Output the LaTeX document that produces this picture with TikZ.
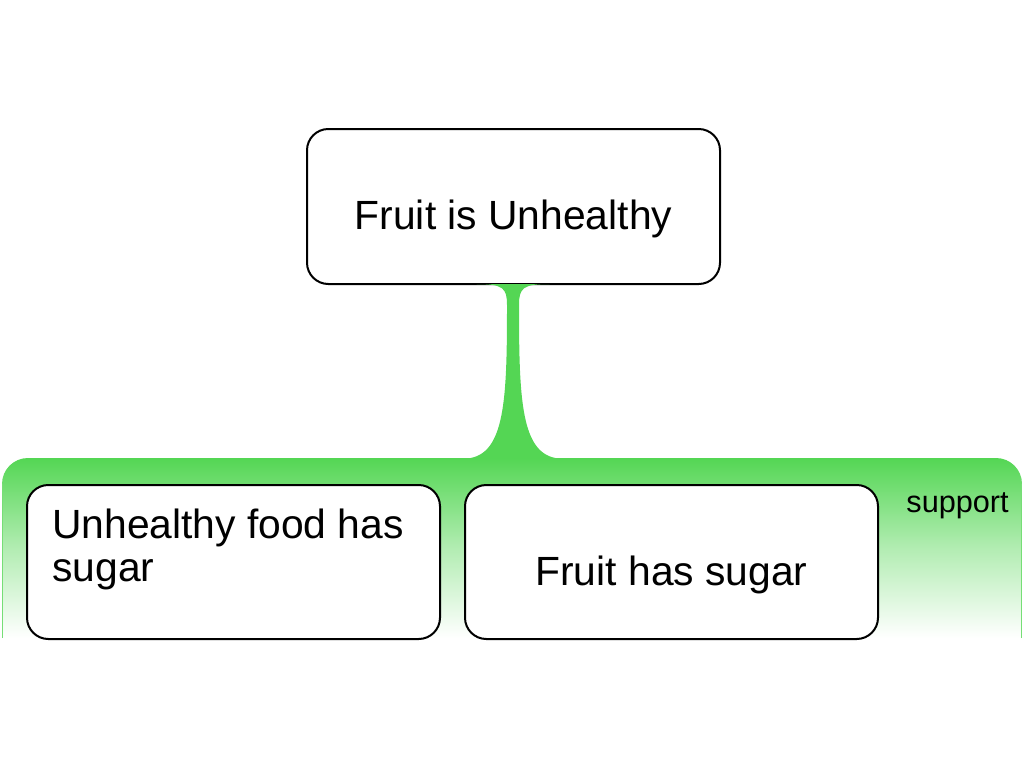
\documentclass[tikz,border=0pt]{standalone}
\usepackage{fontspec}
\setmainfont{Liberation Sans}
\definecolor{leafgreen}{RGB}{84,214,84}
\begin{document}
\begin{tikzpicture}[x=0.75pt,y=-0.75pt,
  claim/.style={draw=black, line width=1.5pt, fill=white, rounded corners=16pt, inner sep=0pt},
  bigtext/.style={font=\fontsize{30.6}{34}\selectfont, inner sep=0pt},
  smalltext/.style={font=\fontsize{23}{26}\selectfont, inner sep=0pt}]
\useasboundingbox (0,0) rectangle (1024,768);
% support band
\shade[top color=leafgreen, bottom color=white, middle color=leafgreen!45]
  (2,638) -- (2,484) .. controls (2,469.6) and (13.6,458) .. (28,458) -- (996,458)
  .. controls (1010.4,458) and (1022,469.6) .. (1022,484) -- (1022,638) -- cycle;
\draw[leafgreen!80, line width=1.2pt] (2.6,638) -- (2.6,484);
\draw[leafgreen!80, line width=1.2pt] (1021.4,638) -- (1021.4,484);
% claim boxes
\node[claim, minimum width=413*0.75pt, minimum height=155*0.75pt] (top) at (513.5,206.5) {};
\node[bigtext, anchor=base] (toptext) at (513.5,229) {Fruit is Unhealthy};
% stem
\fill[leafgreen] (476.5,284) .. controls (503,284) and (507,288) .. (507,305)
  .. controls (507,400) and (505,455) .. (467,458.5)
  -- (559,458.5) .. controls (521,455) and (519,400) .. (519,305)
  .. controls (519,288) and (523,284) .. (549.5,284) -- cycle;
\node[claim, minimum width=413*0.75pt, minimum height=154*0.75pt] (left) at (233.5,562) {};
\node[bigtext, anchor=base west] (lefttext1) at (52,538) {Unhealthy food has};
\node[bigtext, anchor=base west] (lefttext2) at (52,581) {sugar};
\node[claim, minimum width=413*0.75pt, minimum height=154*0.75pt] (right) at (671.5,562) {};
\node[bigtext, anchor=base] (righttext) at (671.5,585) {Fruit has sugar};
\node[smalltext, anchor=base east] (support) at (1009,512) {support};
\end{tikzpicture}
\end{document}
